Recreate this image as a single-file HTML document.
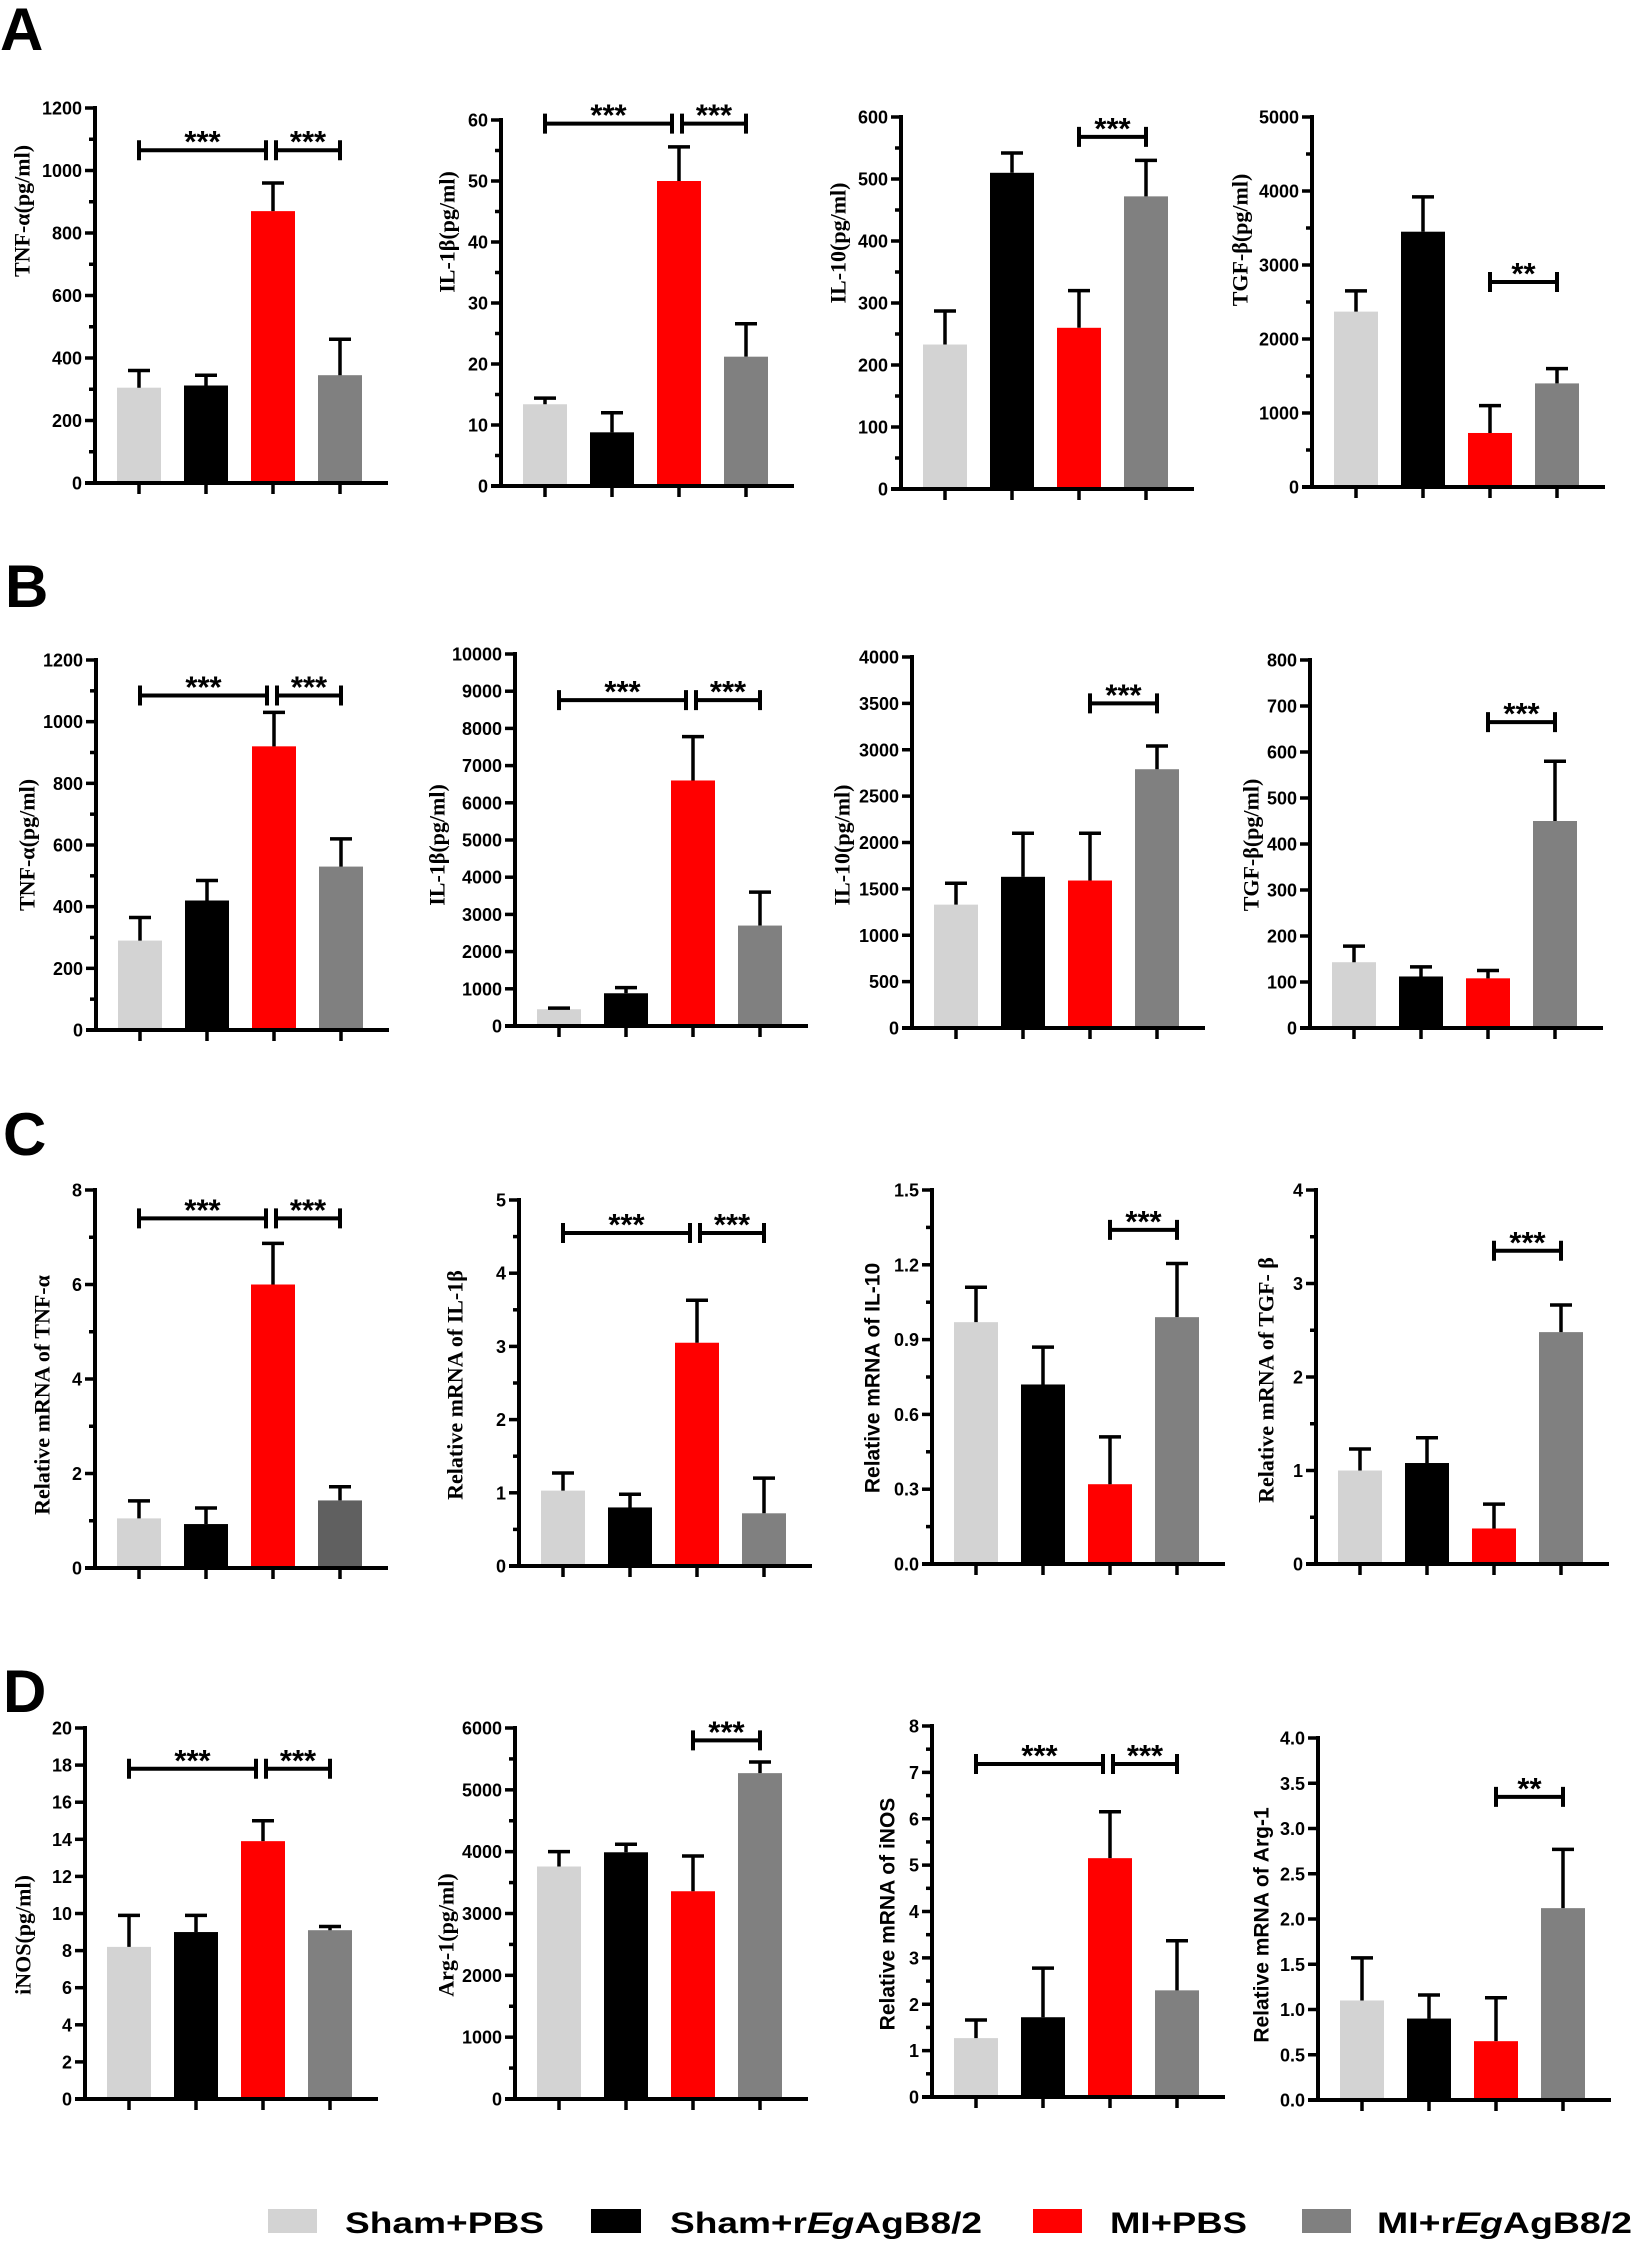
<!DOCTYPE html>
<html><head><meta charset="utf-8"><title>Cytokine bar charts</title>
<style>
html,body{margin:0;padding:0;background:#fff;}
svg{display:block;}
.tk{font-family:"Liberation Sans",sans-serif;font-weight:bold;font-size:18px;fill:#000;}
.ser{font-family:"Liberation Serif",serif;font-weight:bold;font-size:22px;fill:#000;}
.san{font-family:"Liberation Sans",sans-serif;font-weight:bold;font-size:21px;fill:#000;}
.star{font-family:"Liberation Sans",sans-serif;font-weight:bold;font-size:31px;fill:#000;}
.plab{font-family:"Liberation Sans",sans-serif;font-weight:bold;font-size:60px;fill:#000;}
.leg{font-family:"Liberation Sans",sans-serif;font-weight:bold;font-size:30px;fill:#000;}
</style></head>
<body>
<svg id="fig" width="1634" height="2244" viewBox="0 0 1634 2244" xmlns="http://www.w3.org/2000/svg">
<text class="plab" x="0" y="50">A</text>
<text class="plab" x="5" y="607">B</text>
<text class="plab" x="3" y="1155">C</text>
<text class="plab" x="3" y="1712">D</text>
<g>
<rect x="268" y="2209" width="49" height="24" fill="#d3d3d3"/>
<text class="leg" x="345" y="2233" textLength="199" lengthAdjust="spacingAndGlyphs">Sham+PBS</text>
<rect x="591" y="2209" width="50" height="24" fill="#000"/>
<text class="leg" x="670" y="2233" textLength="312" lengthAdjust="spacingAndGlyphs">Sham+r<tspan font-style="italic">Eg</tspan>AgB8/2</text>
<rect x="1033" y="2209" width="49" height="24" fill="#ff0000"/>
<text class="leg" x="1110" y="2233" textLength="137" lengthAdjust="spacingAndGlyphs">MI+PBS</text>
<rect x="1302" y="2209" width="49" height="24" fill="#808080"/>
<text class="leg" x="1377" y="2233" textLength="255" lengthAdjust="spacingAndGlyphs">MI+r<tspan font-style="italic">Eg</tspan>AgB8/2</text>
</g>
</svg>
<script>
const categories = ['Sham+PBS','Sham+rEgAgB8/2','MI+PBS','MI+rEgAgB8/2'];

const meansA1=[305,312,870,345]; const errA1=[360,345,960,460]; const ticksA1=['0','200','400','600','800','1000','1200']; const sigA1=[1065];
const meansA2=[13.4,8.8,50,21.2]; const errA2=[14.4,12,55.6,26.6]; const ticksA2=['0','10','20','30','40','50','60']; const sigA2=[59.4];
const meansA3=[233,510,260,472]; const errA3=[287,542,320,530]; const ticksA3=['0','100','200','300','400','500','600']; const sigA3=[568];
const meansA4=[2370,3450,730,1400]; const errA4=[2650,3920,1100,1600]; const ticksA4=['0','1000','2000','3000','4000','5000']; const sigA4=[2770];
const meansB1=[290,420,920,530]; const errB1=[365,485,1030,620]; const ticksB1=['0','200','400','600','800','1000','1200']; const sigB1=[1085];
const meansB2=[450,880,6600,2700]; const errB2=[480,1030,7780,3600]; const ticksB2=['0','1000','2000','3000','4000','5000','6000','7000','8000','9000','10000']; const sigB2=[8760];
const meansB3=[1330,1630,1590,2790]; const errB3=[1560,2100,2100,3040]; const ticksB3=['0','500','1000','1500','2000','2500','3000','3500','4000']; const sigB3=[3500];
const meansB4=[143,112,108,450]; const errB4=[178,133,125,580]; const ticksB4=['0','100','200','300','400','500','600','700','800']; const sigB4=[665];
const meansC1=[1.05,0.93,6.0,1.43]; const errC1=[1.42,1.27,6.87,1.72]; const ticksC1=['0','2','4','6','8']; const sigC1=[7.4];
const meansC2=[1.03,0.8,3.05,0.72]; const errC2=[1.27,0.98,3.63,1.2]; const ticksC2=['0','1','2','3','4','5']; const sigC2=[4.55];
const meansC3=[0.97,0.72,0.32,0.99]; const errC3=[1.11,0.87,0.51,1.205]; const ticksC3=['0.0','0.3','0.6','0.9','1.2','1.5']; const sigC3=[1.34];
const meansC4=[1.0,1.08,0.38,2.48]; const errC4=[1.23,1.35,0.64,2.77]; const ticksC4=['0','1','2','3','4']; const sigC4=[3.35];
const meansD1=[8.2,9.0,13.9,9.1]; const errD1=[9.9,9.9,15.0,9.3]; const ticksD1=['0','2','4','6','8','10','12','14','16','18','20']; const sigD1=[17.8];
const meansD2=[3760,3990,3360,5270]; const errD2=[4000,4120,3930,5450]; const ticksD2=['0','1000','2000','3000','4000','5000','6000']; const sigD2=[5800];
const meansD3=[1.27,1.72,5.15,2.3]; const errD3=[1.66,2.78,6.15,3.37]; const ticksD3=['0','1','2','3','4','5','6','7','8']; const sigD3=[7.18];
const meansD4=[1.1,0.9,0.65,2.12]; const errD4=[1.57,1.16,1.13,2.77]; const ticksD4=['0.0','0.5','1.0','1.5','2.0','2.5','3.0','3.5','4.0']; const sigD4=[3.35];

const SVGNS='http://www.w3.org/2000/svg';
const svg=document.getElementById('fig');
const colors=['#d3d3d3','#000000','#ff0000','#808080'];

const panels=[
 {id:'a1',ax:95,top:108,zero:483,title:'TNF-α(pg/ml)',serif:true,tx:22,ty:211,minor:true,br:'double',m:meansA1,e:errA1,t:ticksA1,s:sigA1},
 {id:'a2',ax:501,top:120,zero:486,title:'IL-1β(pg/ml)',serif:true,tx:447,ty:232,minor:true,br:'double',m:meansA2,e:errA2,t:ticksA2,s:sigA2},
 {id:'a3',ax:901,top:117,zero:489,title:'IL-10(pg/ml)',serif:true,tx:838,ty:243,minor:true,br:'single',m:meansA3,e:errA3,t:ticksA3,s:sigA3},
 {id:'a4',ax:1312,top:117,zero:487,title:'TGF-β(pg/ml)',serif:true,tx:1240,ty:240,minor:true,br:'single',stars:'**',m:meansA4,e:errA4,t:ticksA4,s:sigA4},
 {id:'b1',ax:96,top:660,zero:1030,title:'TNF-α(pg/ml)',serif:true,tx:27,ty:845,minor:true,br:'double',m:meansB1,e:errB1,t:ticksB1,s:sigB1},
 {id:'b2',ax:515,top:654,zero:1026,title:'IL-1β(pg/ml)',serif:true,tx:437,ty:845,minor:false,br:'double',m:meansB2,e:errB2,t:ticksB2,s:sigB2},
 {id:'b3',ax:912,top:657,zero:1028,title:'IL-10(pg/ml)',serif:true,tx:842,ty:845,minor:false,br:'single',m:meansB3,e:errB3,t:ticksB3,s:sigB3},
 {id:'b4',ax:1310,top:660,zero:1028,title:'TGF-β(pg/ml)',serif:true,tx:1251,ty:845,minor:false,br:'single',m:meansB4,e:errB4,t:ticksB4,s:sigB4},
 {id:'c1',ax:95,top:1190,zero:1568,title:'Relative mRNA of TNF-α',serif:true,tx:42,ty:1395,minor:true,br:'double',dark:true,m:meansC1,e:errC1,t:ticksC1,s:sigC1},
 {id:'c2',ax:519,top:1200,zero:1566,title:'Relative mRNA of IL-1β',serif:true,tx:455,ty:1385,minor:true,br:'double',m:meansC2,e:errC2,t:ticksC2,s:sigC2},
 {id:'c3',ax:932,top:1190,zero:1564,title:'Relative mRNA of IL-10',serif:false,tx:873,ty:1378,minor:true,br:'single',m:meansC3,e:errC3,t:ticksC3,s:sigC3},
 {id:'c4',ax:1316,top:1190,zero:1564,title:'Relative mRNA of TGF- β',serif:true,tx:1266,ty:1380,minor:true,br:'single',m:meansC4,e:errC4,t:ticksC4,s:sigC4},
 {id:'d1',ax:85,top:1728,zero:2099,title:'iNOS(pg/ml)',serif:true,tx:23,ty:1935,minor:false,br:'double',m:meansD1,e:errD1,t:ticksD1,s:sigD1},
 {id:'d2',ax:515,top:1728,zero:2099,title:'Arg-1(pg/ml)',serif:true,tx:446,ty:1935,minor:true,br:'single',m:meansD2,e:errD2,t:ticksD2,s:sigD2},
 {id:'d3',ax:932,top:1726,zero:2097,title:'Relative mRNA of  iNOS',serif:false,tx:888,ty:1914,minor:true,br:'double',m:meansD3,e:errD3,t:ticksD3,s:sigD3},
 {id:'d4',ax:1318,top:1738,zero:2100,title:'Relative mRNA of  Arg-1',serif:false,tx:1262,ty:1925,minor:false,br:'single',stars:'**',m:meansD4,e:errD4,t:ticksD4,s:sigD4}
];

function mk(tag,attrs,parent){
  const el=document.createElementNS(SVGNS,tag);
  for(const k in attrs) el.setAttribute(k,attrs[k]);
  parent.appendChild(el);
  return el;
}

panels.forEach(p=>{
  const g=mk('g',{},svg);
  
  
  const vmax=parseFloat(p.t[p.t.length-1]);
  const y=v=>p.zero-(v/vmax)*(p.zero-p.top);
  const cx=i=>p.ax+44+i*67;
  const sw=4;
  const yl=mk('line',{x1:p.ax,y1:p.top-2,x2:p.ax,y2:p.zero+2,stroke:'#000','stroke-width':sw},g);
  
  
  const xl=mk('line',{x1:p.ax-10,y1:p.zero,x2:p.ax+293,y2:p.zero,stroke:'#000','stroke-width':sw},g);
  
  
  const n=p.t.length;
  p.t.forEach((lab,k)=>{
    const v=parseFloat(lab);
    const yy=y(v);
    mk('line',{x1:p.ax-10,y1:yy,x2:p.ax,y2:yy,stroke:'#000','stroke-width':3.5},g);
    const tx=mk('text',{x:p.ax-13,y:yy+6.5,'text-anchor':'end','class':'tk'},g);
    tx.textContent=lab;
    
    
    if(p.minor && k<n-1){
      const v2=parseFloat(p.t[k+1]);
      const ym=y((v+v2)/2);
      mk('line',{x1:p.ax-6,y1:ym,x2:p.ax,y2:ym,stroke:'#000','stroke-width':3.5},g);
    }
  });
  const tt=mk('text',{x:p.tx,y:p.ty,'text-anchor':'middle','dominant-baseline':'central','class':p.serif?'ser':'san',transform:'rotate(-90 '+p.tx+' '+p.ty+')'},g);
  tt.textContent=p.title;
  
  
  p.m.forEach((v,i)=>{
    const c=cx(i);
    let col=colors[i];
    if(i===3 && p.dark) col='#606060';
    const r=mk('rect',{x:c-22,y:y(v),width:44,height:p.zero-y(v)-sw/2,fill:col},g);
    
    
    const eb=mk('path',{d:'M'+c+' '+y(v)+' V'+y(p.e[i])+' M'+(c-11)+' '+y(p.e[i])+' H'+(c+11),stroke:'#000','stroke-width':3.5,fill:'none'},g);
    
    
    mk('line',{x1:c,y1:p.zero,x2:c,y2:p.zero+11,stroke:'#000','stroke-width':3.5},g);
  });
  const by=y(p.s[0]);
  const segs=p.br==='double'?[[cx(0),cx(2)-7],[cx(2)+3,cx(3)]]:[[cx(2),cx(3)]];
  segs.forEach((sg,j)=>{
    const b=mk('path',{d:'M'+sg[0]+' '+by+' H'+sg[1]+' M'+sg[0]+' '+(by-10)+' V'+(by+10)+' M'+sg[1]+' '+(by-10)+' V'+(by+10),stroke:'#000','stroke-width':4,fill:'none'},g);
    
    
    const st=mk('text',{x:(sg[0]+sg[1])/2,y:by+2,'text-anchor':'middle','class':'star'},g);
    st.textContent=p.stars||'***';
    
    
  });
});
</script>
</body></html>
